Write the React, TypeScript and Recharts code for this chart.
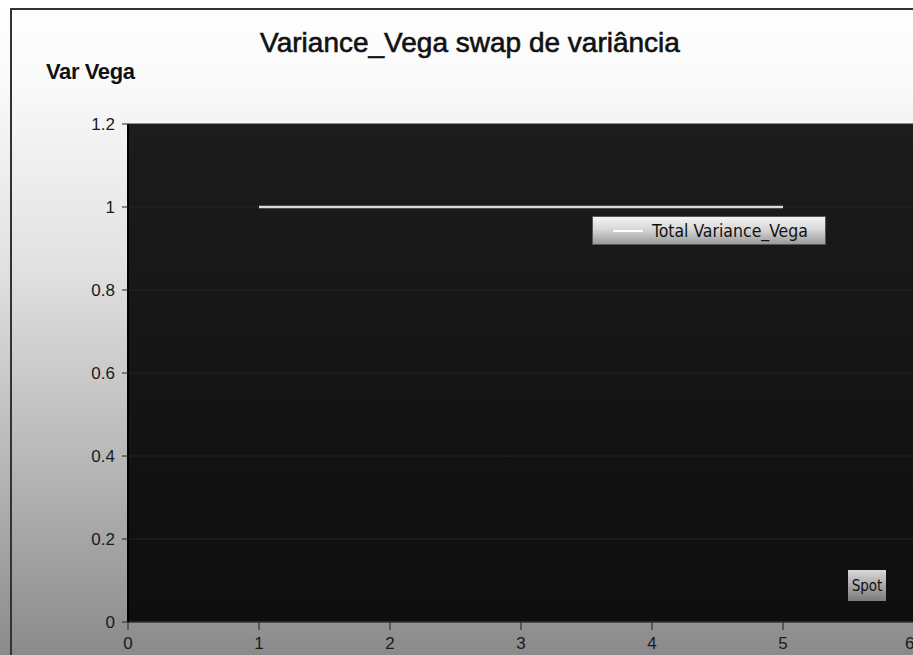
import React from 'react';
import { ComposedChart, Line, XAxis, YAxis, CartesianGrid } from 'recharts';

const spotValues = [1, 2, 3, 4, 5];
const varianceVega = [1, 1, 1, 1, 1];
const xTicks = [0, 1, 2, 3, 4, 5, 6];
const yTicks = [0, 0.2, 0.4, 0.6, 0.8, 1, 1.2];
const seriesName = 'Total Variance_Vega';
const chartTitle = 'Variance_Vega swap de variância';
const yTitle = 'Var Vega';
const xTitle = 'Spot';

const data = spotValues.map((s, i) => ({ spot: s, value: varianceVega[i] }));

const W = 913;
const H = 655;
const NARROW = '"Liberation Sans Narrow", "Arial Narrow", "DejaVu Sans Condensed", "Liberation Sans", Arial, sans-serif';
const SANS = '"Liberation Sans", Arial, sans-serif';

const LegendBox = () => (
  <div
    style={{
      position: 'absolute',
      left: 592,
      top: 216,
      width: 234,
      height: 29,
      boxSizing: 'border-box',
      background: 'linear-gradient(180deg, #f4f4f4 0%, #d8d8d8 45%, #9a9a9a 100%)',
      border: '1px solid #555',
      display: 'flex',
      alignItems: 'center',
      fontFamily: NARROW,
      fontSize: 17.5,
      color: '#111',
      whiteSpace: 'nowrap',
    }}
  >
    <div style={{ width: 30, height: 2, background: '#ffffff', marginLeft: 20, marginRight: 9 }} />
    <span>{seriesName}</span>
  </div>
);

const SpotLabel = () => {
  return (
    <g>
      <defs>
        <linearGradient id="spotGrad" x1="0" y1="0" x2="0" y2="1">
          <stop offset="0%" stopColor="#d8d8d8" />
          <stop offset="100%" stopColor="#7a7a7a" />
        </linearGradient>
      </defs>
      <rect x={848} y={570} width={38} height={31} fill="url(#spotGrad)" />
      <text x={867} y={591} textAnchor="middle" fontSize={15} fontFamily={NARROW} fill="#111">
        {xTitle}
      </text>
    </g>
  );
};

export default function App() {
  return (
    <div
      style={{
        position: 'absolute',
        left: 0,
        top: 0,
        width: W,
        height: H,
        overflow: 'hidden',
        background: 'linear-gradient(180deg, #ffffff 0%, #fafafa 12%, #e2e2e2 40%, #b8b8b8 70%, #8a8a8a 100%)',
      }}
    >
      <div
        style={{
          position: 'absolute',
          left: 10,
          top: 8,
          width: W,
          height: H,
          borderLeft: '2px solid #333',
          borderTop: '2px solid #333',
        }}
      />
      <div
        style={{
          position: 'absolute',
          left: 240,
          width: 460,
          top: 27,
          textAlign: 'center',
          whiteSpace: 'nowrap',
          fontFamily: SANS,
          fontSize: 28,
          WebkitTextStroke: '0.6px #111',
          color: '#111',
        }}
      >
        {chartTitle}
      </div>
      <div
        style={{
          position: 'absolute',
          left: 46,
          top: 59,
          fontFamily: SANS,
          fontWeight: 'bold',
          fontSize: 22,
          letterSpacing: -0.4,
          color: '#111',
        }}
      >
        {yTitle}
      </div>
      <div style={{ position: 'absolute', left: 0, top: 0 }}>
        <ComposedChart
          width={W + 1}
          height={H}
          data={data}
          margin={{ top: 124, right: 0, bottom: 0, left: 0 }}
        >
          <defs>
            <linearGradient id="plotGrad" x1="0" y1="0" x2="0" y2="1">
              <stop offset="0%" stopColor="#1c1c1c" />
              <stop offset="100%" stopColor="#0e0e0e" />
            </linearGradient>
          </defs>
          <CartesianGrid
            vertical={false}
            horizontal={true}
            stroke="#242424"
            fill="url(#plotGrad)"
            fillOpacity={1}
          />
          <XAxis
            dataKey="spot"
            type="number"
            domain={[0, 6]}
            ticks={xTicks}
            height={33}
            axisLine={{ stroke: '#3a3a3a', strokeWidth: 1 }}
            tickLine={{ stroke: '#222' }}
            tickSize={8}
            tickMargin={7}
            tick={{ fill: '#1a1a1a', fontSize: 17, fontFamily: SANS }}
            label={<SpotLabel />}
          />
          <YAxis
            type="number"
            domain={[0, 1.2]}
            ticks={yTicks}
            width={128}
            axisLine={{ stroke: '#000', strokeWidth: 2 }}
            tickLine={{ stroke: '#222' }}
            tickSize={6}
            tickMargin={7}
            tickFormatter={(v: number) => String(Number(v.toFixed(1)))}
            tick={{ fill: '#1a1a1a', fontSize: 17, fontFamily: SANS }}
          />
          <Line
            type="linear"
            dataKey="value"
            name={seriesName}
            stroke="#dadada"
            strokeWidth={2.5}
            dot={false}
            isAnimationActive={false}
          />
        </ComposedChart>
      </div>
      <LegendBox />
    </div>
  );
}
